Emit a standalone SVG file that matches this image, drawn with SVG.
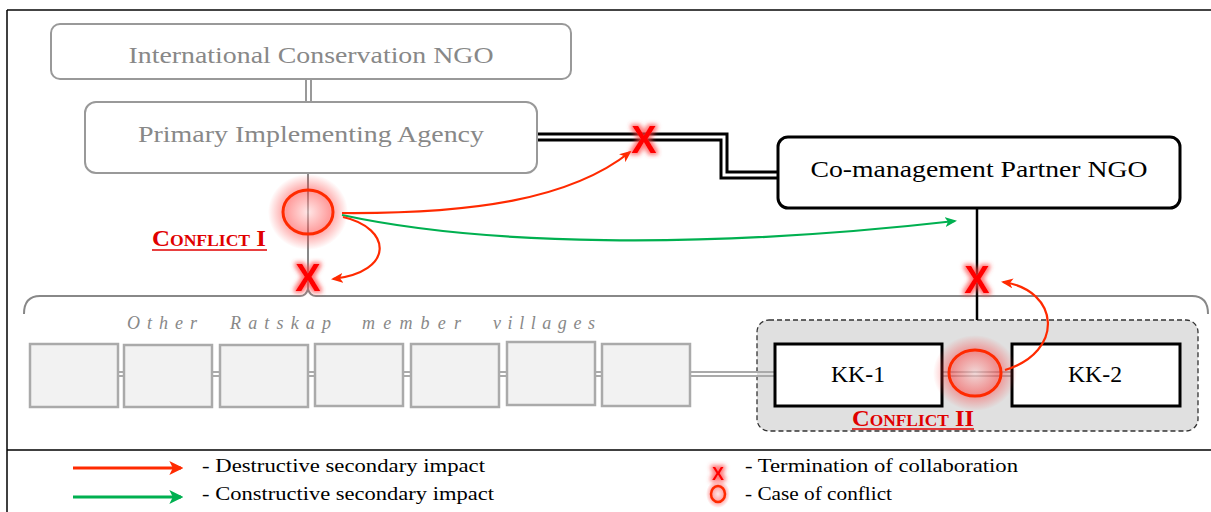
<svg xmlns="http://www.w3.org/2000/svg" width="1211" height="512" viewBox="0 0 1211 512">
<defs>
<style>
.gbox{fill:#fff;stroke:#999;stroke-width:2}
.gtxt{font-family:"Liberation Serif",serif;font-size:24px;fill:#888;text-anchor:middle}
.btxt{font-family:"Liberation Serif",serif;font-size:24px;fill:#000;text-anchor:middle}
.vil{fill:#f2f2f2;stroke:#aaa;stroke-width:2.5}
.vtxt{font-family:"Liberation Serif",serif;font-style:italic;font-size:18px;fill:#888}
.xm{font-family:"Liberation Sans",sans-serif;font-weight:bold;font-size:38px;fill:#ff0000;text-anchor:middle;filter:url(#xglow)}
.red{fill:none;stroke:#ff2a00;stroke-width:2.2;marker-end:url(#ar)}
.grn{fill:none;stroke:#00b050;stroke-width:2.2;marker-end:url(#ag)}
.ring{fill:none;stroke:#ff2a00;stroke-width:3}
.conf{font-family:"Liberation Serif",serif;font-weight:bold;font-size:24px;font-variant:small-caps;fill:#e00000}
.leg{font-family:"Liberation Serif",serif;font-size:19px;fill:#000}
</style>
<marker id="ar" viewBox="0 0 12 10" refX="10" refY="5" markerWidth="12" markerHeight="10" markerUnits="userSpaceOnUse" orient="auto">
<path d="M0,0 L12,5 L0,10 L3,5 z" fill="#ff2a00"/>
</marker>
<marker id="ag" viewBox="0 0 12 10" refX="10" refY="5" markerWidth="12" markerHeight="10" markerUnits="userSpaceOnUse" orient="auto">
<path d="M0,0 L12,5 L0,10 L3,5 z" fill="#00b050"/>
</marker>
<marker id="lr" viewBox="0 0 12 12" refX="10" refY="6" markerWidth="14" markerHeight="14" markerUnits="userSpaceOnUse" orient="auto">
<path d="M0,0 L12,6 L0,12 L3,6 z" fill="#ff2a00"/>
</marker>
<marker id="lg" viewBox="0 0 12 12" refX="10" refY="6" markerWidth="14" markerHeight="14" markerUnits="userSpaceOnUse" orient="auto">
<path d="M0,0 L12,6 L0,12 L3,6 z" fill="#00b050"/>
</marker>
<radialGradient id="glow">
<stop offset="0" stop-color="#ffd0d0" stop-opacity="0.5"/>
<stop offset="0.55" stop-color="#ff3b3b" stop-opacity="0.5"/>
<stop offset="1" stop-color="#ff3b3b" stop-opacity="0"/>
</radialGradient>
<filter id="xglow" x="-50%" y="-50%" width="200%" height="200%">
<feMorphology in="SourceAlpha" operator="dilate" radius="1.5" result="d"/>
<feGaussianBlur in="d" stdDeviation="2" result="b"/>
<feFlood flood-color="#ff4040" flood-opacity="0.7"/>
<feComposite in2="b" operator="in" result="g"/>
<feMerge><feMergeNode in="g"/><feMergeNode in="SourceGraphic"/></feMerge>
</filter>
</defs>

<!-- frame -->
<g id="frame">
<line x1="7" y1="10" x2="1211" y2="10" stroke="#444" stroke-width="2"/>
<line x1="7" y1="10" x2="7" y2="512" stroke="#000" stroke-width="1.5"/>
<line x1="7" y1="450" x2="1211" y2="450" stroke="#000" stroke-width="1.5"/>
</g>

<!-- KK group background -->
<g id="kk-group">
<rect x="757" y="320" width="441" height="111" rx="12" fill="#e0e0e0" stroke="#333" stroke-width="1.3" stroke-dasharray="5,3"/>
</g>

<!-- connectors -->
<g id="connectors">
<line x1="308.5" y1="79" x2="308.5" y2="102" stroke="#999" stroke-width="7"/>
<line x1="308.5" y1="79" x2="308.5" y2="102" stroke="#fff" stroke-width="3"/>
<line x1="308" y1="173" x2="308" y2="291" stroke="#888" stroke-width="2"/>
<path d="M24,314 Q24,296 40,296 L300,296 Q306,296 308,289 Q310,296 316,296 L1192,296 Q1208,296 1208,314" fill="none" stroke="#888" stroke-width="2"/>
<path d="M537,137 L724,137 L724,175 L778,175" fill="none" stroke="#000" stroke-width="9"/>
<path d="M537,137 L724,137 L724,175 L778,175" fill="none" stroke="#fff" stroke-width="3"/>
<line x1="977" y1="208" x2="977" y2="320" stroke="#000" stroke-width="2.5"/>
<g stroke="#aaa" stroke-width="2">
<line x1="118" y1="372" x2="124" y2="372"/><line x1="118" y1="376" x2="124" y2="376"/>
<line x1="212" y1="372" x2="220" y2="372"/><line x1="212" y1="376" x2="220" y2="376"/>
<line x1="308" y1="372" x2="315" y2="372"/><line x1="308" y1="376" x2="315" y2="376"/>
<line x1="403" y1="372" x2="411" y2="372"/><line x1="403" y1="376" x2="411" y2="376"/>
<line x1="499" y1="372" x2="507" y2="372"/><line x1="499" y1="376" x2="507" y2="376"/>
<line x1="595" y1="372" x2="602" y2="372"/><line x1="595" y1="376" x2="602" y2="376"/>
<line x1="690" y1="372" x2="775" y2="372"/><line x1="690" y1="376" x2="775" y2="376"/>
<line x1="942" y1="372" x2="1012" y2="372"/><line x1="942" y1="376" x2="1012" y2="376"/>
</g>
</g>

<!-- nodes -->
<g id="intl-ngo">
<rect class="gbox" x="51" y="24" width="520" height="55" rx="9"/>
<text class="gtxt" x="311" y="63" textLength="365" lengthAdjust="spacingAndGlyphs">International Conservation NGO</text>
</g>
<g id="primary-agency">
<rect class="gbox" x="85" y="102" width="452" height="71" rx="11"/>
<text class="gtxt" x="311" y="142" textLength="346" lengthAdjust="spacingAndGlyphs">Primary Implementing Agency</text>
</g>
<g id="comanagement-ngo">
<rect x="778" y="137" width="402" height="71" rx="10" fill="#fff" stroke="#000" stroke-width="3"/>
<text class="btxt" x="979" y="177" textLength="337" lengthAdjust="spacingAndGlyphs">Co-management Partner NGO</text>
</g>
<g id="villages">
<rect class="vil" x="30" y="344" width="88" height="63"/>
<rect class="vil" x="124" y="345" width="88" height="62"/>
<rect class="vil" x="220" y="345" width="88" height="62"/>
<rect class="vil" x="315" y="344" width="88" height="62"/>
<rect class="vil" x="411" y="344" width="88" height="63"/>
<rect class="vil" x="507" y="342" width="88" height="63"/>
<rect class="vil" x="602" y="344" width="88" height="62"/>
<text class="vtxt" x="127" y="329" textLength="70" lengthAdjust="spacing">Other</text>
<text class="vtxt" x="230" y="329" textLength="101" lengthAdjust="spacing">Ratskap</text>
<text class="vtxt" x="362" y="329" textLength="99" lengthAdjust="spacing">member</text>
<text class="vtxt" x="493" y="329" textLength="102" lengthAdjust="spacing">villages</text>
</g>
<g id="kk-1">
<rect x="775" y="344" width="167" height="62" fill="#fff" stroke="#000" stroke-width="3"/>
<text class="btxt" x="858" y="382" textLength="54" lengthAdjust="spacingAndGlyphs">KK-1</text>
</g>
<g id="kk-2">
<rect x="1012" y="344" width="168" height="62" fill="#fff" stroke="#000" stroke-width="3"/>
<text class="btxt" x="1095" y="382" textLength="54" lengthAdjust="spacingAndGlyphs">KK-2</text>
</g>

<!-- conflicts -->
<g id="conflict-1">
<ellipse cx="308" cy="212" rx="40" ry="38" fill="url(#glow)"/>
<ellipse class="ring" cx="308" cy="212" rx="25" ry="22"/>
<text class="conf" x="152" y="246" textLength="114" lengthAdjust="spacingAndGlyphs">Conflict I</text>
<line x1="152" y1="250" x2="267" y2="250" stroke="#e00000" stroke-width="1.3"/>
</g>
<g id="conflict-2">
<ellipse cx="975" cy="373" rx="42" ry="38" fill="url(#glow)"/>
<ellipse class="ring" cx="975" cy="373" rx="26" ry="23"/>
<text class="conf" x="852" y="426" textLength="122" lengthAdjust="spacingAndGlyphs">Conflict II</text>
<line x1="852" y1="429" x2="974" y2="429" stroke="#e00000" stroke-width="1.3"/>
</g>

<!-- impacts -->
<g id="impacts">
<path class="red" d="M342,213 C470,214 570,200 630,152"/>
<path class="grn" d="M342,215 C480,245 700,250 955,221"/>
<path class="red" d="M343,217 C392,228 395,272 333,279"/>
<path class="red" d="M1005,370 C1065,352 1060,290 1003,282"/>
</g>

<!-- terminations -->
<g id="terminations">
<text class="xm" x="308" y="291">X</text>
<text class="xm" x="644" y="153">X</text>
<text class="xm" x="977" y="293">X</text>
</g>

<!-- legend -->
<g id="legend">
<line x1="73" y1="468" x2="181" y2="468" stroke="#ff2a00" stroke-width="3" marker-end="url(#lr)"/>
<line x1="73" y1="497" x2="181" y2="497" stroke="#00b050" stroke-width="3" marker-end="url(#lg)"/>
<text class="leg" x="202" y="472" textLength="283" lengthAdjust="spacingAndGlyphs">- Destructive secondary impact</text>
<text class="leg" x="202" y="500" textLength="292" lengthAdjust="spacingAndGlyphs">- Constructive secondary impact</text>
<text x="718" y="480" font-family="Liberation Sans,sans-serif" font-weight="bold" font-size="18" fill="#ff0000" text-anchor="middle" filter="url(#xglow)">X</text>
<ellipse cx="718" cy="494" rx="12" ry="14" fill="url(#glow)"/>
<ellipse cx="718" cy="494" rx="7" ry="8" fill="none" stroke="#ff2a00" stroke-width="2.5"/>
<text class="leg" x="745" y="472" textLength="273" lengthAdjust="spacingAndGlyphs">- Termination of collaboration</text>
<text class="leg" x="745" y="500" textLength="147" lengthAdjust="spacingAndGlyphs">- Case of conflict</text>
</g>
</svg>
